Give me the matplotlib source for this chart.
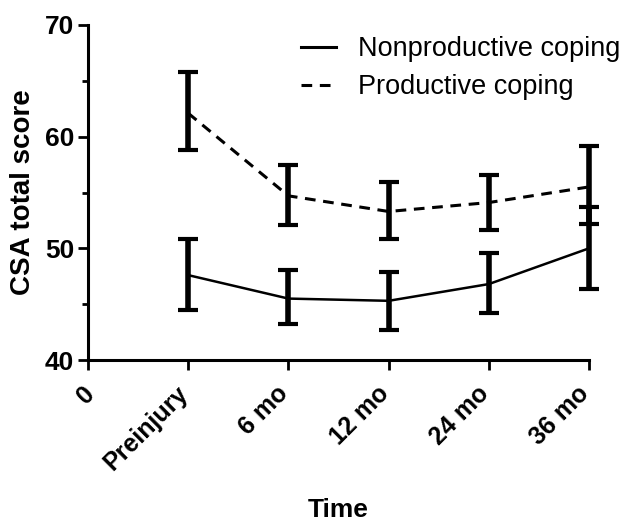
import matplotlib
matplotlib.use("Agg")
import matplotlib.pyplot as plt
from matplotlib.lines import Line2D
import matplotlib.transforms as mtrans
import numpy as np

plt.rcParams['font.family'] = ['Liberation Sans', 'DejaVu Sans']

tick_labels = ["0", "Preinjury", "6 mo", "12 mo", "24 mo", "36 mo"]
time_pos = [1, 2, 3, 4, 5]

nonprod_mean = [47.6, 45.5, 45.3, 46.8, 50.0]
nonprod_upper = [50.8, 48.1, 47.9, 49.6, 53.7]
nonprod_lower = [44.5, 43.2, 42.7, 44.2, 46.4]

prod_mean = [62.1, 54.7, 53.3, 54.1, 55.5]
prod_upper = [65.8, 57.5, 55.9, 56.6, 59.2]
prod_lower = [58.8, 52.1, 50.8, 51.6, 52.2]

fig = plt.figure(figsize=(6.23, 5.21), dpi=100)
ax = fig.add_axes([88/623, 1-360/521, (589-88)/623, (360-25)/521])

def err(mean, lo, hi):
    m = np.array(mean)
    return [m - np.array(lo), np.array(hi) - m]

dash = (0, (3.5, 2.5))
ax.errorbar(time_pos, nonprod_mean, yerr=err(nonprod_mean, nonprod_lower, nonprod_upper),
            color='black', lw=1.8, ls='-', elinewidth=4, capsize=7, capthick=3,
            label='Nonproductive coping', clip_on=False)
ax.errorbar(time_pos, prod_mean, yerr=err(prod_mean, prod_lower, prod_upper),
            color='black', lw=2.2, ls=dash, elinewidth=4, capsize=7, capthick=3,
            label='Productive coping', clip_on=False)

ax.set_xlim(0, 5)
ax.set_ylim(40, 70)
ax.set_xticks(range(6))
ax.set_yticks([40, 50, 60, 70])
ax.set_yticks([45, 55, 65], minor=True)
ax.tick_params(axis='y', labelsize=19, width=2, length=7, direction='out', pad=3)
ax.tick_params(axis='y', which='minor', width=2, length=4)
ax.tick_params(axis='x', width=2, length=7, direction='out', pad=4)
for lbl in ax.get_yticklabels():
    lbl.set_fontweight('bold')
for s in ['top', 'right']:
    ax.spines[s].set_visible(False)
for s in ['left', 'bottom']:
    ax.spines[s].set_linewidth(2.2)

ax.set_xticklabels(tick_labels, rotation=45, ha='right', rotation_mode='anchor',
                   fontsize=18, fontweight='bold')
for i, lbl in enumerate(ax.get_xticklabels()):
    dx = -6 if i == 0 else -12
    offset = mtrans.ScaledTranslation(dx/100, -6/100, fig.dpi_scale_trans)
    lbl.set_transform(lbl.get_transform() + offset)

ax.set_ylabel('CSA total score', fontsize=20, fontweight='bold', labelpad=6)
fig.text(338/623, 1-517/521, 'Time', ha='center', va='baseline',
         fontsize=19, fontweight='bold')

labels = ['Nonproductive coping', 'Productive coping']
h = [Line2D([], [], color='black', lw=2.2, ls='-'),
     Line2D([], [], color='black', lw=2.2, ls=dash)]
fig.legend(h, labels, loc='upper left', bbox_to_anchor=(301/623, 1-36/521),
           frameon=False, fontsize=19.5, handlelength=1.3, handletextpad=0.8,
           labelspacing=0.46, borderpad=0, borderaxespad=0)

fig.savefig('out.png', dpi=100)
